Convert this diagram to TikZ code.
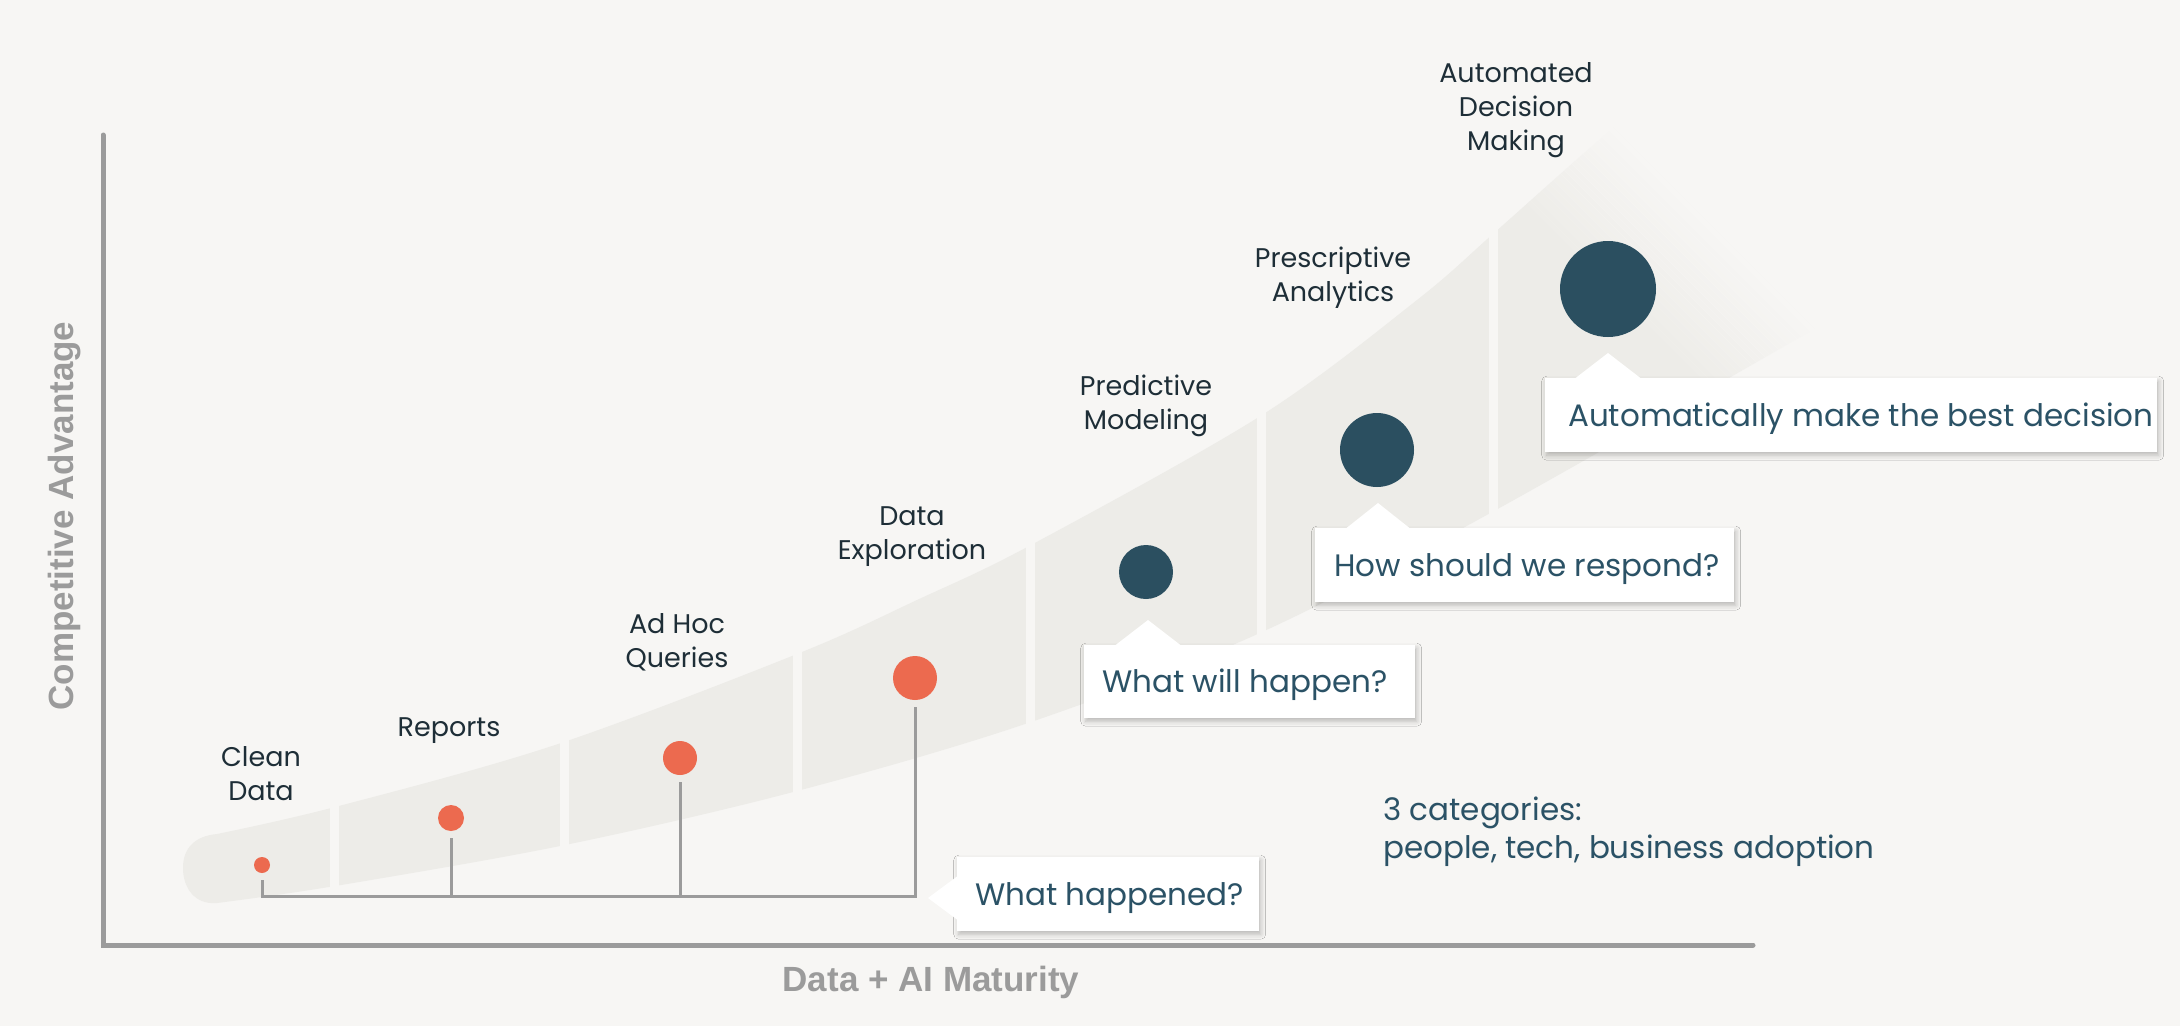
\documentclass[tikz,border=0pt]{standalone}
\usepackage{fontspec}
\setmainfont{Poppins}
\newfontfamily\axisfont{Liberation Sans}
\usetikzlibrary{calc,shadows.blur}

\definecolor{bgc}{HTML}{F7F6F4}
\definecolor{bandc}{HTML}{EDECE8}
\definecolor{axisc}{HTML}{9B9B9B}
\definecolor{dotorange}{HTML}{EC6A4F}
\definecolor{dotteal}{HTML}{2B4F60}
\definecolor{labelc}{HTML}{1E2E37}
\definecolor{calloutc}{HTML}{2B5266}

\begin{document}
\begin{tikzpicture}[x=1pt, y=-1pt,
  stage/.style={font=\fontsize{27}{34}\selectfont, text=labelc, anchor=base, inner sep=0pt},
  hotdot/.style={circle, fill=dotorange, inner sep=0pt, outer sep=7pt},
  colddot/.style={circle, fill=dotteal, inner sep=0pt},
  bracketline/.style={draw=axisc, line width=3pt, line join=miter},
  axisline/.style={draw=axisc, line width=5pt, line cap=round, line join=miter},
  axislabel/.style={font={\axisfont\bfseries\fontsize{35}{40}\selectfont}, text=axisc, inner sep=0pt},
  calloutbox/.style={fill=white, anchor=north west, inner sep=0pt,
    blur shadow={shadow xshift=1.5pt, shadow yshift=-3pt, shadow blur radius=5pt, shadow opacity=25}},
  pointer/.style={fill=white},
  callouttext/.style={font=\fontsize{31}{36}\selectfont, text=calloutc, inner sep=0pt,
    text height=22pt, text depth=0pt, anchor=west},
]
\fill[bgc] (0,0) rectangle (2180,1026);
\useasboundingbox (0,0) rectangle (2180,1026);

% maturity band
\fill[bandc]
  plot[smooth, tension=0.55] coordinates {(217,834) (335,807) (555,745) (797,654) (917,600) (1031,545) (1262,415) (1417,300) (1494,233) (1591,147) (1660,90)}
  -- plot[smooth, tension=0.55] coordinates {(1830,320) (1494,511) (1262,632) (1031,722) (797,791) (565,845) (335,886) (217,903)}
  .. controls (195,905) and (183,888) .. (183,868)
  .. controls (183,848) and (195,836) .. (217,834) -- cycle;

% the band's far end dissolves into the background
\begin{scope}[shift={(1560,322)}, rotate=45]
  \foreach \i in {0,...,24} {
    \pgfmathsetmacro\op{(\i+1)/25}
    \fill[bgc, opacity=\op] ({50+5*\i},-500) rectangle ++(5.4,1000);
  }
  \fill[bgc] (175,-500) rectangle (700,500);
\end{scope}

% separators between the stages
\foreach \gx in {330,560,793,1026,1257,1489}
  \fill[bgc] (\gx,100) rectangle ++(9,860);

% axes
\coordinate (ytop) at (103,135);
\coordinate (orig) at (103,945);
\coordinate (xend) at (1753,945);
\draw[axisline] (ytop) -- (orig) -- (xend);
\node[axislabel, rotate=90] (ylab) at (65,516) {Competitive Advantage};
\node[axislabel] (xlab) at (931,982) {Data + AI Maturity};

% stage markers
\node[hotdot, minimum size=16pt] (cd) at (262,865) {};
\node[hotdot, minimum size=26pt] (rp) at (451,818) {};
\node[hotdot, minimum size=34pt] (ah) at (680,758) {};
\node[hotdot, minimum size=44pt] (de) at (915,678) {};
\node[colddot, minimum size=54pt] (pm) at (1146,572) {};
\node[colddot, minimum size=74pt] (pa) at (1377,450) {};
\node[colddot, minimum size=96pt] (ad) at (1608,289) {};

% bracket joining the descriptive stages
\coordinate (rail) at (0,896);
\draw[bracketline] (cd.south) |- (rail -| de.south) -- (de.south);
\draw[bracketline] (rp.south) -- (rp.south |- rail);
\draw[bracketline] (ah.south) -- (ah.south |- rail);

% stage names
\node[stage] (lcd) at (261,766) {\begin{tabular}[t]{@{}c@{}}Clean\\Data\end{tabular}};
\node[stage] (lrp) at (449,736) {\begin{tabular}[t]{@{}c@{}}Reports\end{tabular}};
\node[stage] (lah) at (677,633) {\begin{tabular}[t]{@{}c@{}}Ad Hoc\\Queries\end{tabular}};
\node[stage] (lde) at (912,525) {\begin{tabular}[t]{@{}c@{}}Data\\Exploration\end{tabular}};
\node[stage] (lpm) at (1146,395) {\begin{tabular}[t]{@{}c@{}}Predictive\\Modeling\end{tabular}};
\node[stage] (lpa) at (1333,267) {\begin{tabular}[t]{@{}c@{}}Prescriptive\\Analytics\end{tabular}};
\node[stage] (lad) at (1516,82) {\begin{tabular}[t]{@{}c@{}}Automated\\Decision\\Making\end{tabular}};

% callouts
\node[calloutbox, minimum width=302pt, minimum height=74pt] (bwh) at (957,857) {};
\coordinate (twh) at (928,898);
\fill[pointer] ($(twh)+(31,-23)$) -- (twh) -- ($(twh)+(31,23)$) -- cycle;
\node[callouttext] (qwh) at ($(bwh.west)+(18,0)$) {What happened?};

\node[calloutbox, minimum width=331pt, minimum height=73pt] (bww) at (1084,645) {};
\coordinate (tww) at (1148,620);
\fill[pointer] ($(tww)+(-35,27)$) -- (tww) -- ($(tww)+(35,27)$) -- cycle;
\node[callouttext] (qww) at ($(bww.west)+(18,0)$) {What will happen?};

\node[calloutbox, minimum width=419pt, minimum height=74pt] (bhs) at (1315,528) {};
\coordinate (ths) at (1378,503);
\fill[pointer] ($(ths)+(-34,27)$) -- (ths) -- ($(ths)+(34,27)$) -- cycle;
\node[callouttext] (qhs) at ($(bhs.west)+(19,0)$) {How should we respond?};

\node[calloutbox, minimum width=612pt, minimum height=74pt] (bam) at (1545,378) {};
\coordinate (tam) at (1608,353);
\fill[pointer] ($(tam)+(-35,27)$) -- (tam) -- ($(tam)+(35,27)$) -- cycle;
\node[callouttext] (qam) at ($(bam.west)+(23,0)$) {Automatically make the best decision};

% note
\node[anchor=base west, inner sep=0pt, font=\fontsize{31}{38}\selectfont, text=calloutc] (cats) at (1383,820)
  {\begin{tabular}[t]{@{}l@{}}3 categories:\\people, tech, business adoption\end{tabular}};
\end{tikzpicture}
\end{document}
